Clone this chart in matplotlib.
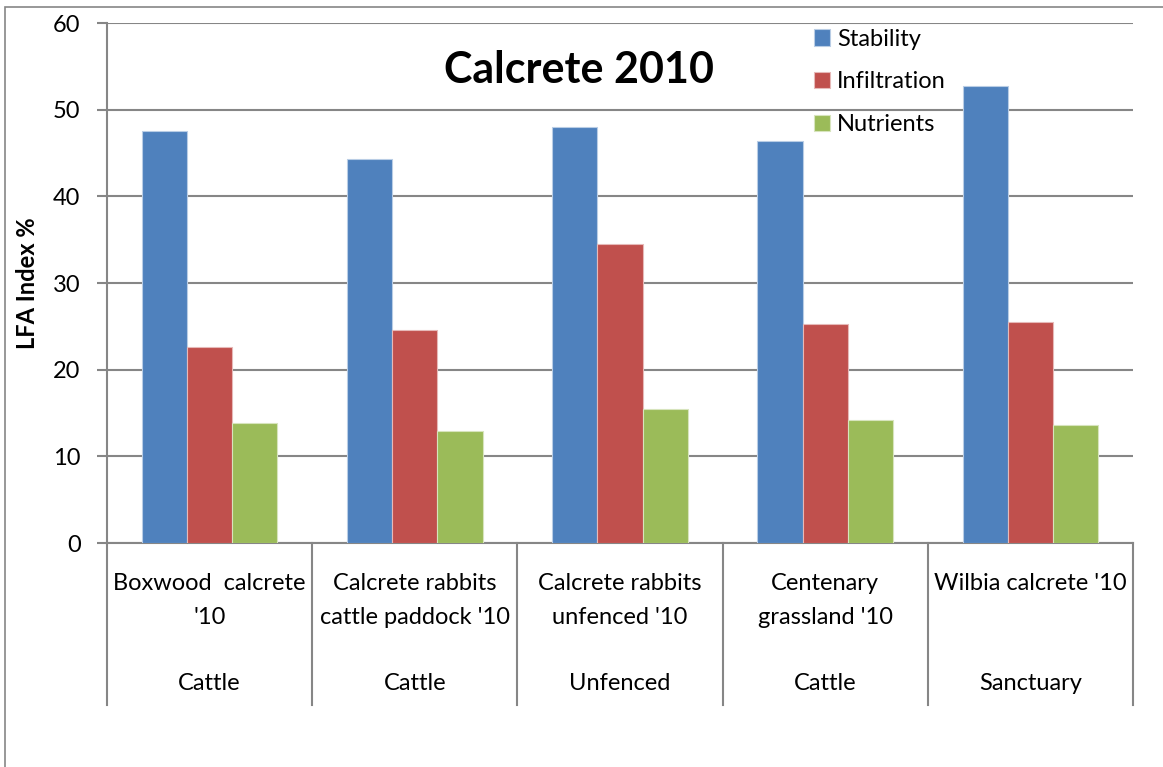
import matplotlib.pyplot as plt
import matplotlib.transforms as mtransforms
from matplotlib.patches import Rectangle
import numpy as np

plt.rcParams['font.family'] = ['Lato', 'DejaVu Sans']

# Sites (first tier) and their grazing regime (second tier)
sites = ["Boxwood  calcrete\n'10", "Calcrete rabbits\ncattle paddock '10",
         "Calcrete rabbits\nunfenced '10", "Centenary\ngrassland '10",
         "Wilbia calcrete '10"]
regimes = ["Cattle", "Cattle", "Unfenced", "Cattle", "Sanctuary"]

stability = [47.5, 44.3, 48.0, 46.4, 52.7]
infiltration = [22.6, 24.6, 34.5, 25.3, 25.5]
nutrients = [13.9, 12.9, 15.5, 14.2, 13.6]

series = [("Stability", stability, "#4F81BD", "#B9CDE5"),
          ("Infiltration", infiltration, "#C0504D", "#E6B9B8"),
          ("Nutrients", nutrients, "#9BBB59", "#D7E4BD")]

grey = "#868686"

fig = plt.figure(figsize=(11.63, 7.67), dpi=100)
ax = fig.add_axes([107 / 1163, 1 - 543 / 767, 1026 / 1163, 520 / 767])

# outer chart frame
fig.patches.append(Rectangle((5 / 1163, -0.05), 1.1, 1.05 - 7 / 767,
                             transform=fig.transFigure, fill=False,
                             edgecolor=grey, linewidth=1.2))

x = np.arange(len(sites))
w = 0.22
for i, (name, vals, col, edge) in enumerate(series):
    ax.bar(x + (i - 1) * w, vals, w, color=col, edgecolor=edge,
           linewidth=0.8, label=name, zorder=3)

ax.set_xlim(-0.5, len(sites) - 0.5)
ax.set_ylim(0, 60)
ax.set_yticks(range(0, 61, 10))
ax.yaxis.grid(True, color=grey, linewidth=1.5, zorder=0)
ax.tick_params(axis='y', length=7, width=1.5, color=grey, labelsize=17, pad=12)
ax.set_xticks([])
for s in ['top', 'right']:
    ax.spines[s].set_visible(False)
for s in ['left', 'bottom']:
    ax.spines[s].set_color(grey)
    ax.spines[s].set_linewidth(1.5)

ax.set_ylabel("LFA Index %", fontsize=17, fontweight='bold', labelpad=10)

# two-tier category axis
trans = mtransforms.blended_transform_factory(ax.transData, ax.transAxes)
for b in np.arange(-0.5, len(sites), 1.0):
    ax.plot([b, b], [0, -(705 - 543) / 520], transform=trans, color=grey,
            linewidth=1.5, clip_on=False)
for xi, site, reg in zip(x, sites, regimes):
    ax.text(xi, -(573 - 543) / 520, site, transform=trans, ha='center',
            va='top', fontsize=17, linespacing=1.75)
    ax.text(xi, -(683 - 543) / 520, reg, transform=trans, ha='center',
            va='center', fontsize=17)

ax.text(1.8, 0.91, "Calcrete 2010", transform=trans,
        ha='center', va='center', fontsize=31, fontweight='bold')

leg = ax.legend(loc='upper left', bbox_to_anchor=(0.668, 1.03), frameon=False,
                fontsize=17, handlelength=0.7, handleheight=0.7,
                handletextpad=0.3, labelspacing=0.92)

fig.savefig("out.png", dpi=100)
